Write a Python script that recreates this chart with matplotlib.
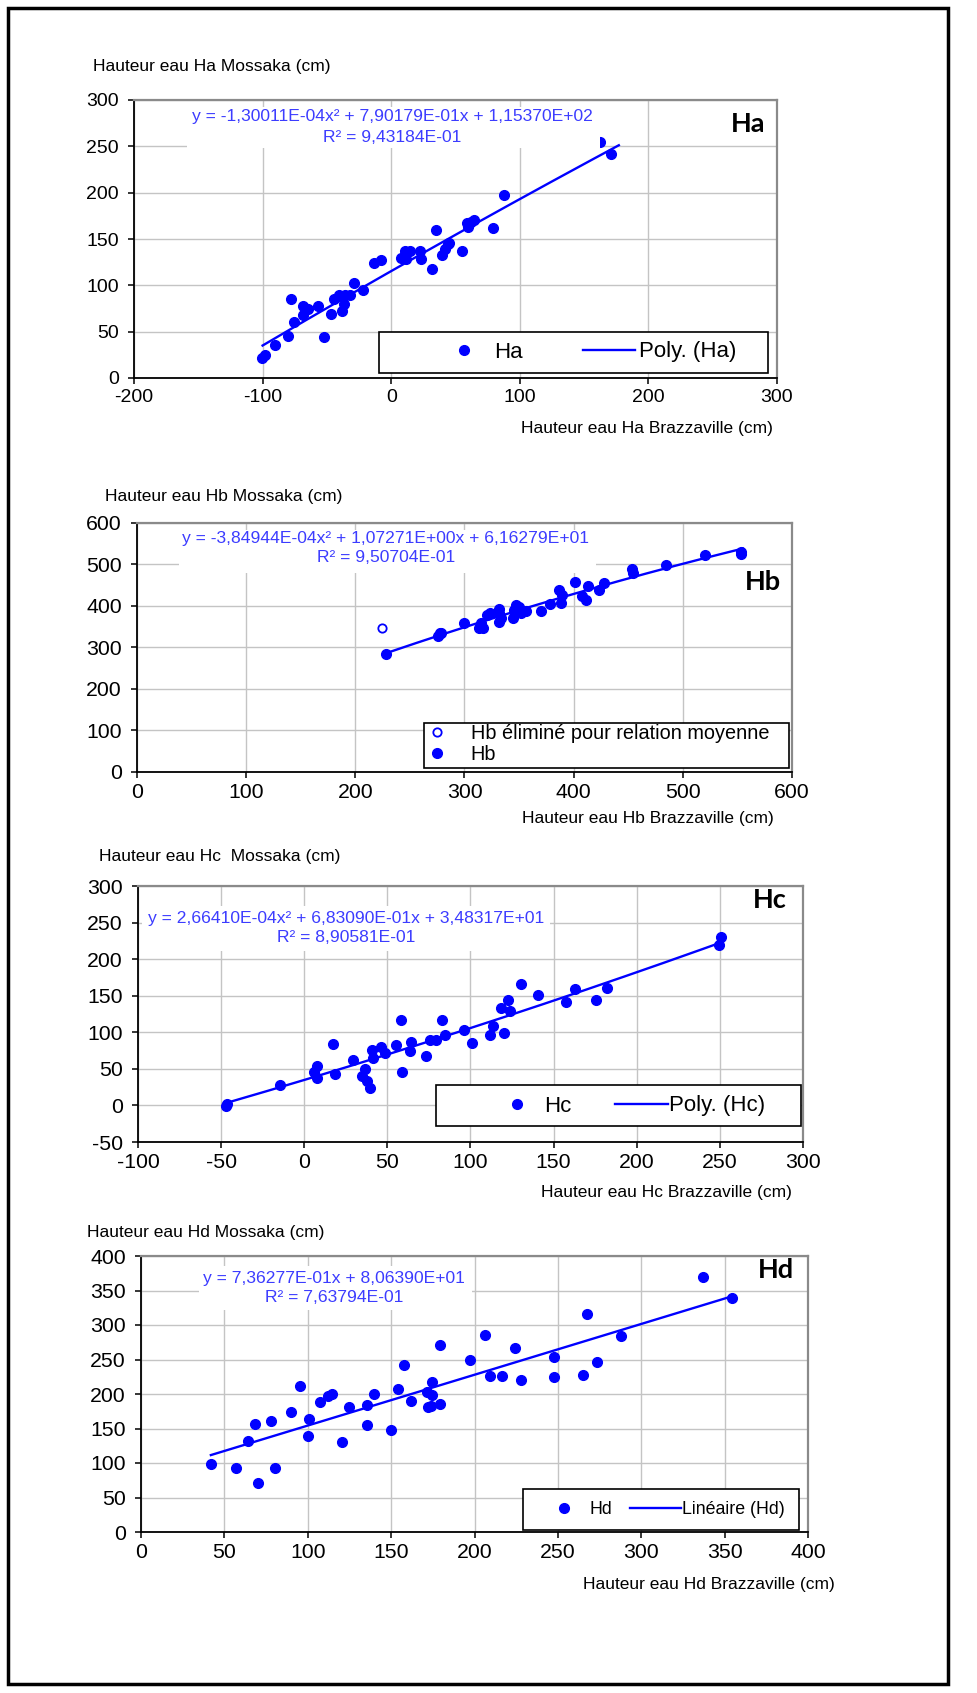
import numpy as np
import matplotlib
matplotlib.use("Agg")
import matplotlib.pyplot as plt
from matplotlib.patches import Rectangle

plt.rcParams['font.family'] = ['Liberation Sans', 'DejaVu Sans']
plt.rcParams['axes.unicode_minus'] = False

# ---------------- data ----------------
ha_x = [-100.6, -98, -90.6, -80, -77.6, -75.8, -68.7, -68.4, -65, -56.6, -52.6, -46.6, -44.5, -40.8,
        -38, -37, -36.2, -32, -28.7, -22.2, -13, -7.6, 7.4, 11, 11.7, 14.6, 22.5, 23.2, 32, 35, 39.6,
        42, 44.3, 45, 55.4, 59.3, 60, 61.8, 64.7, 79.3, 87.6, 162.3, 171]
ha_y = [22, 25, 36, 45, 85, 60, 78, 68, 75, 78, 44, 69, 85, 90, 72, 80, 90, 90, 103, 95, 124, 127,
        129, 137, 128, 137, 137, 128, 118, 160, 133, 139, 145, 146, 137, 167, 163, 168, 171, 162, 197,
        255, 242]
ha_coef = [-1.30011e-04, 7.90179e-01, 1.15370e+02]
ha_range = [-100, 177]
ha_eq = ["y = -1,30011E-04x\u00b2 + 7,90179E-01x + 1,15370E+02", "R\u00b2 = 9,43184E-01"]

hb_x = [228, 275.8, 277.5, 278.8, 299.7, 313.2, 315.3, 316.5, 320.3, 323.7, 331.7, 332, 331.7, 333,
        344.7, 345.5, 347.6, 349.7, 352.2, 356, 370.3, 378.7, 386.6, 388, 389.6, 401.3, 408, 411.4,
        413.5, 423, 427.4, 453.8, 454.7, 484.9, 520.6, 553.3, 553]
hb_y = [285, 327, 335, 336, 359, 348, 359, 348, 378, 383, 392, 382, 361, 371, 371, 391, 403, 398,
        382, 388, 388, 406, 438, 407, 426, 458, 424, 414, 448, 438, 456, 488, 479, 499, 523, 529, 525]
hb_out_x = [224.6]
hb_out_y = [346]
hb_coef = [-3.84944e-04, 1.07271e+00, 6.16279e+01]
hb_range = [228, 555]
hb_eq = ["y = -3,84944E-04x\u00b2 + 1,07271E+00x + 6,16279E+01", "R\u00b2 = 9,50704E-01"]

hc_x = [-47.3, -46.2, -14.6, 5.8, 7.4, 7.4, 17.3, 18.7, 29.5, 34.5, 36.4, 37.5, 39.4, 40.8, 41.6, 46,
        48.5, 55.4, 57.9, 58.7, 63.4, 64.3, 73.1, 75.9, 79.5, 82.8, 84.4, 95.8, 100.7, 111.5, 113.4,
        118.4, 120.1, 122.8, 123.6, 130.6, 140.5, 157.6, 163.1, 175.6, 181.9, 249.6, 250.4]
hc_y = [-1.4, 1.4, 28.3, 45.6, 53.8, 37.4, 84.3, 42.4, 62.5, 40.6, 50.1, 33.3, 24.2, 75.2, 65.2, 79.8,
        71.6, 83, 117.1, 45.6, 74.3, 86.1, 67, 89.3, 89.3, 116.7, 95.7, 103.5, 84.8, 95.7, 108.5, 133.1,
        99.4, 144.5, 128.6, 165.5, 150.9, 140.8, 159, 144, 160.9, 219.7, 230.6]
hc_coef = [2.66410e-04, 6.83090e-01, 3.48317e+01]
hc_range = [-47, 250]
hc_eq = ["y = 2,66410E-04x\u00b2 + 6,83090E-01x + 3,48317E+01", "R\u00b2 = 8,90581E-01"]

hd_x = [41.9, 56.7, 64, 68.1, 70.4, 78, 80.3, 90.2, 95.1, 100.7, 100.1, 107.3, 112, 114.6, 120.7,
        124.8, 135.6, 135.6, 139.6, 149.8, 154.2, 157.7, 162, 171.6, 171.9, 174, 174.8, 174.8, 179.5,
        179.5, 197.5, 206.5, 209.5, 216.5, 224.3, 227.8, 247.9, 247.9, 265, 267.6, 273.4, 287.7,
        336.9, 354.6]
hd_y = [98.9, 92.1, 132.2, 156.7, 71.5, 160.2, 92.1, 174.3, 212, 164, 138.6, 188, 196.8, 199.8,
        130.3, 180.7, 184.6, 154.8, 200.3, 147.4, 207.1, 241.4, 189.5, 203.2, 180.7, 182.7, 218,
        198.3, 186.1, 271.3, 248.8, 285, 226.3, 226.3, 266.4, 220.9, 254.2, 224.3, 228.2, 316.4,
        245.8, 283.5, 370.2, 338.9]
hd_coef = [7.36277e-01, 8.06390e+01]
hd_range = [41.9, 354.6]
hd_eq = ["y = 7,36277E-01x + 8,06390E+01", "R\u00b2 = 7,63794E-01"]

ha_xticks = [-200, -100, 0, 100, 200, 300]
ha_yticks = [0, 50, 100, 150, 200, 250, 300]
hb_xticks = [0, 100, 200, 300, 400, 500, 600]
hb_yticks = [0, 100, 200, 300, 400, 500, 600]
hc_xticks = [-100, -50, 0, 50, 100, 150, 200, 250, 300]
hc_yticks = [-50, 0, 50, 100, 150, 200, 250, 300]
hd_xticks = [0, 50, 100, 150, 200, 250, 300, 350, 400]
hd_yticks = [0, 50, 100, 150, 200, 250, 300, 350, 400]

# ---------------- layout ----------------
W, H = 978, 1693
fig = plt.figure(figsize=(W / 100, H / 100), dpi=100)

BLUE = '#0000ff'
EQ_BLUE = '#3c3cff'
LAB_FS = 12.5
EQ_FS = 12.6


def fx(px):
    return px / W


def fy(py):
    return 1 - py / H


def make_axes(L, T, R, B, xticks, yticks, tfs):
    ax = fig.add_axes([fx(L), fy(B), (R - L) / W, (B - T) / H])
    ax.set_xlim(xticks[0], xticks[-1])
    ax.set_ylim(yticks[0], yticks[-1])
    ax.set_xticks(xticks)
    ax.set_yticks(yticks)
    ax.grid(True, color='#c4c4c4', lw=1.0)
    ax.set_axisbelow(True)
    for s in ['top', 'right']:
        ax.spines[s].set_color('#8a8a8a')
        ax.spines[s].set_linewidth(1.6)
    for s in ['left', 'bottom']:
        ax.spines[s].set_color('black')
        ax.spines[s].set_linewidth(1.3)
    ax.tick_params(direction='out', length=4, width=1.1, labelsize=tfs)
    ax.tick_params(axis='x', pad=4)
    ax.tick_params(axis='y', pad=7)
    return ax


def px_to_ax(ax_box, px, py):
    L, T, R, B = ax_box
    return (px - L) / (R - L), (B - py) / (B - T)


def eq_box(ax, ax_box, bx0, by0, bx1, by1, cx, cy1, cy2, lines):
    x0, y1 = px_to_ax(ax_box, bx0, by0)
    x1, y0 = px_to_ax(ax_box, bx1, by1)
    ax.add_patch(Rectangle((x0, y0), x1 - x0, y1 - y0, transform=ax.transAxes,
                           facecolor='white', edgecolor='none', zorder=4))
    for line, cy in zip(lines, [cy1, cy2]):
        tx, ty = px_to_ax(ax_box, cx, cy)
        ax.text(tx, ty, line, transform=ax.transAxes, ha='center', va='center',
                color=EQ_BLUE, fontsize=EQ_FS, zorder=5)


def legend_in_box(ax, ax_box, bx0, by0, bx1, by1, handles, ax_px, ay_px, **kw):
    x0, y1 = px_to_ax(ax_box, bx0, by0)
    x1, y0 = px_to_ax(ax_box, bx1, by1)
    ax.add_patch(Rectangle((x0, y0), x1 - x0, y1 - y0, transform=ax.transAxes,
                           facecolor='white', edgecolor='black', lw=1.2, zorder=6))
    anchor = px_to_ax(ax_box, ax_px, ay_px)
    lg = ax.legend(handles=handles, loc='center left', bbox_to_anchor=anchor, frameon=False,
                   borderpad=0, borderaxespad=0, **kw)
    lg.set_zorder(7)
    return lg


def panel_label(ax, ax_box, px, py, s):
    tx, ty = px_to_ax(ax_box, px, py)
    ax.text(tx, ty, s, transform=ax.transAxes, ha='center', va='center',
            fontsize=19.5, fontweight='bold', family=['Lato', 'DejaVu Sans'], zorder=5)


def trend(ax, coef, rng):
    xs = np.linspace(rng[0], rng[1], 200)
    return ax.plot(xs, np.polyval(coef, xs), color=BLUE, lw=1.7, zorder=3)[0]


# ---- Ha ----
box_a = (134, 100, 777, 378)
ax_a = make_axes(*box_a, ha_xticks, ha_yticks, 14)
pa = ax_a.plot(ha_x, ha_y, 'o', color=BLUE, ms=7, mec=BLUE, zorder=3, label='Ha')[0]
la = trend(ax_a, ha_coef, ha_range)
la.set_label('Poly. (Ha)')
eq_box(ax_a, box_a, 187, 107, 600, 148, 392, 117, 137, ha_eq)
panel_label(ax_a, box_a, 748, 124, 'Ha')
legend_in_box(ax_a, box_a, 379, 332, 768, 373, [pa, la], 438, 352, ncol=2, fontsize=16,
              handlelength=2.34, handletextpad=0.18, columnspacing=2.7)
fig.text(fx(93), fy(67), 'Hauteur eau Ha Mossaka (cm)', ha='left', va='center', fontsize=LAB_FS)
fig.text(fx(773), fy(428), 'Hauteur eau Ha Brazzaville (cm)', ha='right', va='center', fontsize=LAB_FS)

# ---- Hb ----
box_b = (137, 523, 792, 772)
ax_b = make_axes(*box_b, hb_xticks, hb_yticks, 15.3)
po = ax_b.plot(hb_out_x, hb_out_y, 'o', color=BLUE, ms=6, mfc='white', mec=BLUE, mew=1.3,
               zorder=3, label='Hb \u00e9limin\u00e9 pour relation moyenne')[0]
pb = ax_b.plot(hb_x, hb_y, 'o', color=BLUE, ms=7, mec=BLUE, zorder=3, label='Hb')[0]
trend(ax_b, hb_coef, hb_range)
eq_box(ax_b, box_b, 179, 530, 596, 573, 386, 539, 558, hb_eq)
panel_label(ax_b, box_b, 763, 582, 'Hb')
legend_in_box(ax_b, box_b, 424, 723, 789, 768, [po, pb], 427, 744, ncol=1, fontsize=14.3,
              handlelength=1.0, handletextpad=1.2, labelspacing=0.12)
fig.text(fx(105), fy(497), 'Hauteur eau Hb Mossaka (cm)', ha='left', va='center', fontsize=LAB_FS)
fig.text(fx(774), fy(819), 'Hauteur eau Hb Brazzaville (cm)', ha='right', va='center', fontsize=LAB_FS)

# ---- Hc ----
box_c = (138, 886, 803, 1142)
ax_c = make_axes(*box_c, hc_xticks, hc_yticks, 15.3)
pc = ax_c.plot(hc_x, hc_y, 'o', color=BLUE, ms=7, mec=BLUE, zorder=3, label='Hc')[0]
lc = trend(ax_c, hc_coef, hc_range)
lc.set_label('Poly. (Hc)')
eq_box(ax_c, box_c, 142, 906, 550, 951, 346, 918, 937, hc_eq)
panel_label(ax_c, box_c, 770, 900, 'Hc')
legend_in_box(ax_c, box_c, 436, 1085, 801, 1126, [pc, lc], 490, 1106, ncol=2, fontsize=16,
              handlelength=2.4, handletextpad=0.05, columnspacing=1.94)
fig.text(fx(99), fy(857), 'Hauteur eau Hc  Mossaka (cm)', ha='left', va='center', fontsize=LAB_FS)
fig.text(fx(792), fy(1192), 'Hauteur eau Hc Brazzaville (cm)', ha='right', va='center', fontsize=LAB_FS)

# ---- Hd ----
box_d = (141, 1256, 808, 1532)
ax_d = make_axes(*box_d, hd_xticks, hd_yticks, 15.3)
pd_ = ax_d.plot(hd_x, hd_y, 'o', color=BLUE, ms=7, mec=BLUE, zorder=3, label='Hd')[0]
ld = trend(ax_d, hd_coef, hd_range)
ld.set_label('Lin\u00e9aire (Hd)')
eq_box(ax_d, box_d, 199, 1266, 472, 1310, 334, 1279, 1298, hd_eq)
panel_label(ax_d, box_d, 776, 1270, 'Hd')
legend_in_box(ax_d, box_d, 523, 1489, 799, 1530, [pd_, ld], 538, 1510, ncol=2, fontsize=12.8,
              handlelength=2.87, handletextpad=0.05, columnspacing=1.0)
fig.text(fx(87), fy(1233), 'Hauteur eau Hd Mossaka (cm)', ha='left', va='center', fontsize=LAB_FS)
fig.text(fx(835), fy(1585), 'Hauteur eau Hd Brazzaville (cm)', ha='right', va='center', fontsize=LAB_FS)

# outer frame
fig.add_artist(Rectangle((fx(8), fy(1684)), (948 - 8) / W, (1684 - 8) / H, transform=fig.transFigure,
                         facecolor='none', edgecolor='black', lw=2.5))

fig.savefig('out.png', dpi=100)
